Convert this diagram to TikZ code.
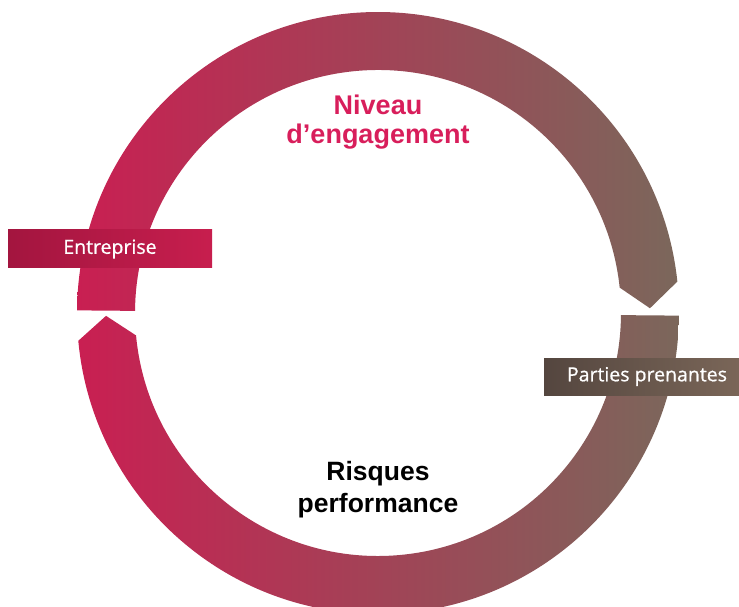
\documentclass[tikz,border=0pt]{standalone}
\usepackage{fontspec}
\setmainfont{Liberation Sans}
\newfontfamily\labelfont[FakeBold=0.7]{Open Sans}
\definecolor{ringred}{HTML}{C91F52}
\definecolor{ringbrown}{HTML}{7B675B}
\definecolor{boxred}{HTML}{A3153F}
\definecolor{boxredlight}{HTML}{C71E4E}
\definecolor{boxbrown}{HTML}{54463F}
\definecolor{boxbrownlight}{HTML}{7A6658}
\definecolor{titlered}{HTML}{D81E5B}

\begin{document}
\begin{tikzpicture}[x=1pt,y=1pt,
	labelbox/.style={inner sep=0pt, text=white, font=\labelfont\fontsize{19.5}{22}\selectfont},
	cycletext/.style={align=center, inner sep=0pt, font=\bfseries\fontsize{27}{29}\selectfont}]
	\useasboundingbox (0,0) rectangle (739,606);
	\begin{scope}[shift={(378,293)}]
		\shade[left color=ringred, right color=ringbrown] (179.5:301) arc[start angle=179.5, end angle=6, radius=301] -- (1:272) -- (6:243) arc[start angle=6, end angle=179.5, radius=243] -- cycle;
		\shade[left color=ringred, right color=ringbrown] (-0.5:301) arc[start angle=-0.5, end angle=-174.7, radius=301] -- (-179.4:272) -- (-174.7:243) arc[start angle=-174.7, end angle=-0.5, radius=243] -- cycle;
	\end{scope}
	\node[labelbox, left color=boxred, right color=boxredlight, minimum width=204pt, minimum height=38pt] (entreprise) at (110,357) {Entreprise};
	\node[labelbox, left color=boxbrown, right color=boxbrownlight, minimum width=195pt, minimum height=37pt] (parties) at (641.5,229.5) {\hspace*{11pt}Parties prenantes};
	\node[cycletext, text=titlered] (niveau) at (378,484) {Niveau\\d’engagement};
	\node[cycletext, text=black, font=\bfseries\fontsize{26.5}{32}\selectfont] (risques) at (378,116) {Risques\\performance};
\end{tikzpicture}
\end{document}
